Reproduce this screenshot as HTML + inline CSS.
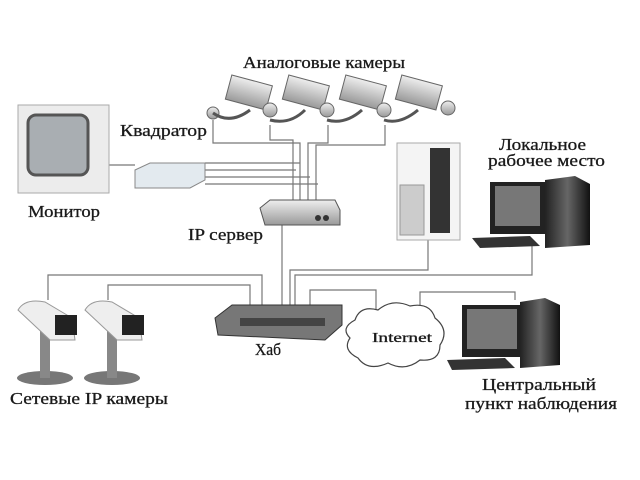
<!DOCTYPE html>
<html><head><meta charset="utf-8"><style>
html,body{margin:0;padding:0;background:#fff;width:640px;height:480px;overflow:hidden}
text{font-family:"Liberation Serif",serif;fill:#1a1a1a;stroke:#1a1a1a;stroke-width:0.3}
</style></head><body>
<svg width="640" height="480" viewBox="0 0 640 480" xmlns="http://www.w3.org/2000/svg">
<defs>
<linearGradient id="g1" x1="0" y1="0" x2="0" y2="1"><stop offset="0" stop-color="#eee"/><stop offset="1" stop-color="#999"/></linearGradient>
<linearGradient id="gd" x1="0" y1="0" x2="1" y2="0"><stop offset="0" stop-color="#222"/><stop offset="0.5" stop-color="#666"/><stop offset="1" stop-color="#111"/></linearGradient>
</defs>
<g stroke="#777" stroke-width="1.2" fill="none">
<path d="M213 120 V143 H300 V200"/><path d="M270 125 V140 H293 V200"/><path d="M328 125 V143 H308 V200"/><path d="M385 125 V145 H316 V200"/>
<path d="M205 163 H300"/><path d="M205 170 H296"/><path d="M205 177 H310"/><path d="M205 184 H318"/>
<path d="M109 165 H135"/>
<path d="M282 225 V305"/><path d="M428 240 V270 H290 V305"/><path d="M532 245 V275 H295 V305"/>
<path d="M48 300 V275 H262 V305"/><path d="M108 300 V285 H250 V305"/>
<path d="M310 305 V290 H376 V310"/><path d="M420 310 V292 H515 V300"/>
</g>
<rect x="18" y="105" width="91" height="88" fill="#ececec" stroke="#aaa"/>
<rect x="28" y="115" width="60" height="60" rx="8" fill="#a9aeb2" stroke="#555" stroke-width="3"/>
<polygon points="135,170 150,163 205,163 205,180 190,188 135,188" fill="#e3eaef" stroke="#888"/>
<g fill="url(#g1)" stroke="#666">
<rect x="228" y="80" width="42" height="25" transform="rotate(15 249 92)"/>
<rect x="285" y="80" width="42" height="25" transform="rotate(15 306 92)"/>
<rect x="342" y="80" width="42" height="25" transform="rotate(15 363 92)"/>
<rect x="398" y="80" width="42" height="25" transform="rotate(15 419 92)"/>
<circle cx="270" cy="110" r="7"/><circle cx="327" cy="110" r="7"/><circle cx="384" cy="110" r="7"/><circle cx="448" cy="108" r="7"/>
<circle cx="213" cy="113" r="6"/>
</g>
<g stroke="#555" stroke-width="3" fill="none"><path d="M213 113 Q230 125 250 110"/><path d="M270 120 Q290 125 305 110"/><path d="M327 120 Q345 125 362 110"/><path d="M384 120 Q400 125 418 110"/></g>
<polygon points="260,208 270,200 335,200 340,210 340,225 265,225" fill="url(#g1)" stroke="#555"/>
<circle cx="318" cy="218" r="3" fill="#333"/><circle cx="326" cy="218" r="3" fill="#333"/>
<rect x="397" y="143" width="63" height="97" fill="#f4f4f4" stroke="#aaa"/>
<rect x="430" y="148" width="20" height="85" fill="#333"/>
<rect x="400" y="185" width="24" height="50" fill="#ccc" stroke="#999"/>
<rect x="490" y="182" width="55" height="52" fill="#222"/><rect x="495" y="186" width="45" height="40" fill="#777"/>
<polygon points="545,180 575,176 590,184 590,245 545,248" fill="url(#gd)"/>
<polygon points="472,238 530,236 540,246 480,248" fill="#333"/>
<polygon points="215,318 232,305 342,305 342,325 325,340 218,335" fill="#777" stroke="#333"/>
<rect x="240" y="318" width="85" height="8" fill="#444"/>
<path d="M355 320 Q360 305 378 310 Q392 298 410 306 Q430 302 435 318 Q450 330 440 345 Q440 362 420 360 Q405 372 388 363 Q368 372 358 358 Q342 350 350 338 Q340 328 355 320Z" fill="#fff" stroke="#444" stroke-width="1.2"/>
<rect x="462" y="305" width="60" height="52" fill="#222"/><rect x="467" y="309" width="50" height="40" fill="#777"/>
<polygon points="520,302 545,298 560,305 560,365 520,368" fill="url(#gd)"/>
<polygon points="447,360 505,358 515,368 452,370" fill="#333"/>
<ellipse cx="45" cy="378" rx="28" ry="7" fill="#777"/><rect x="40" y="330" width="10" height="48" fill="#888"/>
<path d="M18 310 Q25 298 45 302 L72 318 L75 340 L50 340 Z" fill="#eee" stroke="#999"/><rect x="55" y="315" width="22" height="20" fill="#222"/>
<ellipse cx="112" cy="378" rx="28" ry="7" fill="#777"/><rect x="107" y="330" width="10" height="48" fill="#888"/>
<path d="M85 310 Q92 298 112 302 L139 318 L142 340 L117 340 Z" fill="#eee" stroke="#999"/><rect x="122" y="315" width="22" height="20" fill="#222"/>
<g font-size="17" lengthAdjust="spacingAndGlyphs">
<text x="243" y="68" textLength="162" lengthAdjust="spacingAndGlyphs">Аналоговые камеры</text>
<text x="120" y="136" textLength="87" lengthAdjust="spacingAndGlyphs">Квадратор</text>
<text x="28" y="217" textLength="72" lengthAdjust="spacingAndGlyphs">Монитор</text>
<text x="188" y="240" textLength="75" lengthAdjust="spacingAndGlyphs">IP сервер</text>
<text x="499" y="150" textLength="87" lengthAdjust="spacingAndGlyphs">Локальное</text>
<text x="488" y="166" textLength="117" lengthAdjust="spacingAndGlyphs">рабочее место</text>
<text x="255" y="355" textLength="26" lengthAdjust="spacingAndGlyphs">Хаб</text>
<text x="372" y="342" font-family="Liberation Sans" font-size="14" textLength="60" lengthAdjust="spacingAndGlyphs">Internet</text>
<text x="10" y="404" textLength="158" lengthAdjust="spacingAndGlyphs">Сетевые IP камеры</text>
<text x="482" y="390" textLength="114" lengthAdjust="spacingAndGlyphs">Центральный</text>
<text x="465" y="409" textLength="152" lengthAdjust="spacingAndGlyphs">пункт наблюдения</text>
</g>
</svg>
</body></html>
